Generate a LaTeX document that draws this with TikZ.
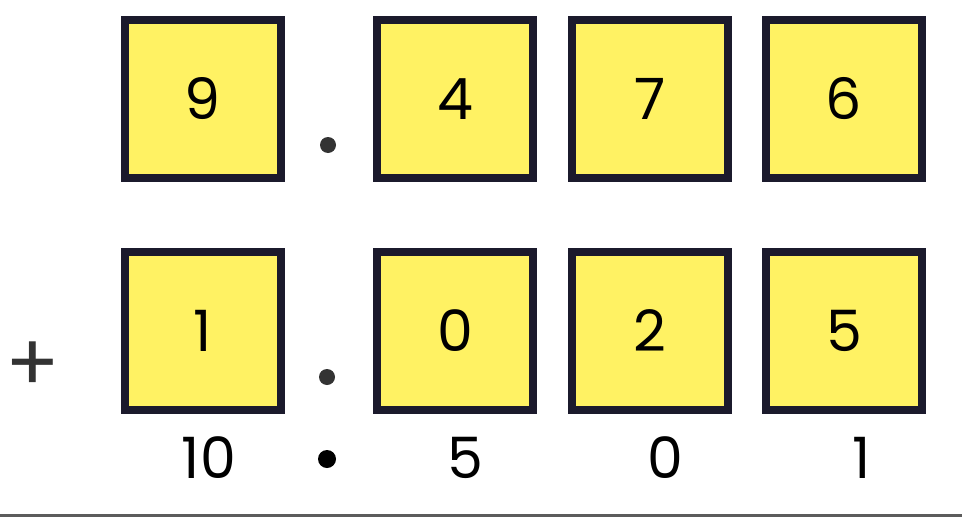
\documentclass[tikz,border=0pt]{standalone}
\usepackage{fontspec}
\setmainfont{Poppins}
\usepackage{tikz}
\usetikzlibrary{positioning}
\definecolor{boxfill}{HTML}{FFF263}
\definecolor{boxline}{HTML}{1B1A2C}
\definecolor{signgray}{HTML}{333333}

\begin{document}
\begin{tikzpicture}[x=1pt,y=-1pt,
      digit/.style={draw=boxline, fill=boxfill, line width=8pt, rectangle, minimum width=156pt, minimum height=158pt, inner sep=0pt, font=\fontsize{57}{60}\selectfont},
      point/.style={circle, fill=signgray, inner sep=0pt, minimum size=16pt},
      carry/.style={anchor=base, font=\fontsize{57}{60}\selectfont}
    ]
    \useasboundingbox (0,0) rectangle (969,522);

    % first number
    \node[digit] (a0) at (202.5,99) {9};
    \node[point] (pa) at (328,145) {};
    \node[digit] (a1) at (455,99) {4};
    \node[digit] (a2) at (650,99) {7};
    \node[digit] (a3) at (844,99) {6};

    % second number
    \node[font=\fontsize{80}{80}\selectfont, text=signgray] (plus) at (33,367) {+};
    \node[digit] (b0) at (202.5,330.5) {1};
    \node[point] (pb) at (327,377) {};
    \node[digit] (b1) at (455,330.5) {0};
    \node[digit] (b2) at (650,330.5) {2};
    \node[digit] (b3) at (844,330.5) {5};

    % result
    \node[carry] (c0) at (209,478) {10};
    \node[point,fill=black,minimum size=18pt] (pc) at (327,459) {};
    \node[carry] (c1) at (465,478) {5};
    \node[carry] (c2) at (665,478) {0};
    \node[carry] (c3) at (862,478) {1};

    \coordinate (l0) at (0,515);
    \coordinate (l1) at (962,515);
    \draw[line width=3pt, signgray!80] (l0) -- (l1);
  \end{tikzpicture}
\end{document}
